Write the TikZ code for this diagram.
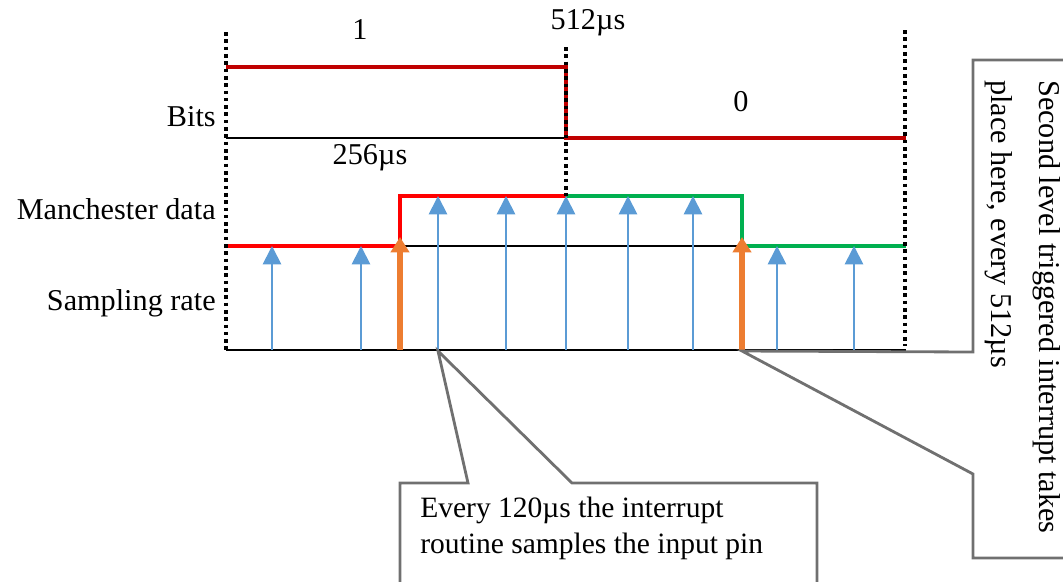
\documentclass[tikz,border=0pt]{standalone}
\usepackage{fontspec}
\setmainfont{Liberation Serif}
\usetikzlibrary{arrows.meta}

\definecolor{bitred}{RGB}{192,0,0}
\definecolor{manred}{RGB}{255,0,0}
\definecolor{mangreen}{RGB}{0,176,80}
\definecolor{sampblue}{RGB}{91,155,213}
\definecolor{trigorange}{RGB}{237,125,49}
\definecolor{callgray}{RGB}{112,112,112}

\tikzset{
  timedots/.style={line width=2.8pt, dash pattern=on 2.6pt off 2.6pt},
  bitline/.style={bitred, line width=2.8pt},
  levelline/.style={line width=2.8pt},
  sampler/.style={sampblue, line width=1.3pt, -{Triangle[width=13pt,length=13pt]}},
  trigger/.style={trigorange, line width=3.8pt, -{Triangle[width=13pt,length=11pt]}},
  calloutbox/.style={callgray, line width=2pt, line join=miter},
  lbl/.style={inner sep=0pt}
}

\begin{document}
\begin{tikzpicture}[x=0.025cm, y=-0.025cm, font=\fontsize{21.5}{25.6}\selectfont]
        \useasboundingbox (0,0) rectangle (1063,581);
        \clip (0,0) rectangle (1063,581);
        % reference lines
        \draw[line width=1.2pt] (226,138) -- (566,138);
        \draw[line width=1.2pt] (400,246) -- (742,246);
        \draw[line width=1.2pt] (226,350) -- (906,350);
        % bits
        \draw[bitline] (226,67) -- (566,67) -- (566,138) -- (906,138);
        % manchester data
        \draw[levelline, manred] (226,246) -- (400,246) -- (400,196) -- (566,196);
        \draw[levelline, mangreen] (566,196) -- (742,196) -- (742,246) -- (906,246);
        % time markers
        \draw[timedots] (226,32) -- (226,350);
        \draw[timedots] (566,47) -- (566,196);
        \draw[timedots] (905,30) -- (905,346);
        % sampling points
        \foreach \x/\lvl in {272/246, 361/246, 438/196, 506/196, 566/196,
                             628/196, 693/196, 777/246, 854/246}
            \draw[sampler] (\x,350) -- (\x,\lvl);
        % edge triggered interrupts
        \draw[trigger] (400,350) -- (400,237);
        \draw[trigger] (742,350) -- (742,237);
        % labels
        \node[lbl] (one)  at (360,30)  {1};
        \node[lbl] (t512) at (588,23)  {512µs};
        \node[lbl] (zero) at (741,102) {0};
        \node[lbl] (t256) at (370,158) {256µs};
        \node[lbl, anchor=east] (bits) at (216,117) {Bits};
        \node[lbl, anchor=east] (man)  at (216,209) {Manchester data};
        \node[lbl, anchor=east] (samp) at (216,303) {Sampling rate};
        % callouts
        \coordinate (spl) at (438,351);
        \coordinate (trg) at (742,351);
        \draw[calloutbox] (468,483) -- (spl) -- (572,483) -- (817,483)
            -- (817,640) -- (400,640) -- (400,483) -- cycle;
        \node[lbl, anchor=north west, align=left,
              font=\fontsize{21}{25.6}\selectfont] (splnote) at (420,497)
            {Every 120µs the interrupt\\routine samples the input pin};
        \draw[calloutbox] (973,352) -- (trg) -- (973,474) -- (973,558)
            -- (1100,558) -- (1100,60) -- (973,60) -- cycle;
        \node[lbl, rotate=-90, anchor=north west, align=left,
              font=\fontsize{21.5}{34}\selectfont] (trgnote) at (1061,80)
            {Second level triggered interrupt takes\\place here, every 512µs};
\end{tikzpicture}
\end{document}
